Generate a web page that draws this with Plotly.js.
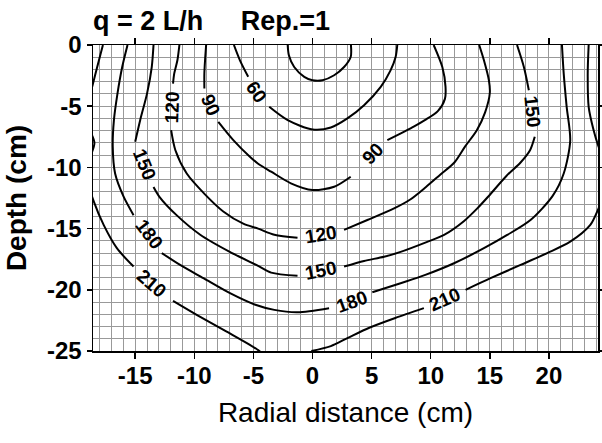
<!DOCTYPE html>
<html><head><meta charset="utf-8">
<script src="https://cdn.plot.ly/plotly-3.0.1.min.js"></script>
<style>html,body{margin:0;padding:0;background:#fff}</style>
</head><body><div id="chart" style="width:602px;height:443px"></div>
<script>
// ---- data (x: radial distance cm, y: depth cm) ----
const c30X = [-2.1, -2.0, -1.55, -0.7, 0, 0.84, 1.83, 2.67, 3.23, 3.25];
const c30Y = [0, -0.84, -1.8, -2.6, -2.88, -2.88, -2.47, -1.8, -0.98, 0];

const c60X = [-6.65, -6.14, -5.44, null, -3.66, -2.1, 0, 1.55, 2.95, 4.36, 5.77, 6.6, 7.03, 7.17];
const c60Y = [0, -1.25, -2.6, null, -5.05, -6.14, -6.9, -6.74, -6.0, -4.92, -3.42, -2.07, -0.98, 0];

const c90X = [-9.0, -9.09, -9.15, -9.15, null, -7.97, -6.7, -5.3, -4.6, -3.5, -1.83, 0, 1.83, 3.23, null, 6.33, 7.6, 8.6, 9.5, 10.6, 11.2, 11.25, 10.98, 10.25];
const c90Y = [0, -1.25, -2.34, -3.56, null, -6.28, -7.77, -9.13, -9.7, -10.35, -11.3, -11.85, -11.58, -10.76, null, -7.77, -7.15, -6.65, -6.14, -5.4, -4.4, -3.4, -1.8, 0];

const c120X = [-11.26, -11.43, -11.7, -11.8, null, -11.96, -11.6, -10.64, -9.1, -7.55, -5.86, -4.6, -3.23, -1.27, null, 2.67, 4.64, 6.9, 8.3, 9.6, 10.8, 12.0, 12.9, 13.9, 14.6, 15.0, 14.92, 14.5, 14.1];
const c120Y = [0, -1.25, -2.34, -3.15, null, -6.96, -8.6, -10.5, -12.2, -13.6, -14.6, -15.0, -15.5, -15.74, null, -15.1, -14.3, -13.35, -12.6, -11.6, -10.6, -9.6, -8.3, -6.96, -5.5, -3.9, -2.88, -1.25, 0];

const c150X = [-13.45, -13.6, -14.0, -14.58, -15.0, null, -13.45, -12.95, -11.5, -9.5, -7.0, -4.6, -3.5, -1.27, null, 2.67, 4.36, 6.05, 7.45, 9.65, 11.13, 12.8, 13.94, 14.85, 16.4, 17.6, 18.4, 18.8, null, 18.3, 17.88, 17.3];
const c150Y = [0, -1.8, -3.97, -6.14, -7.9, null, -11.6, -12.4, -13.9, -15.5, -16.9, -18.05, -18.6, -18.86, null, -18.1, -17.64, -17.3, -16.9, -16.1, -15.52, -14.4, -13.35, -12.4, -10.7, -9.6, -8.6, -7.5, null, -3.7, -1.8, 0];

const c180X = [-15.65, -16.1, -16.5, -16.8, -16.9, -16.7, -16.0, -15.14, null, -12.75, -11.2, -9.23, -6.98, -4.9, -3.23, -1.27, 1.4, null, 5.06, 7.45, 9.6, 11.97, 14.5, 16.47, 18.44, 20.3, 21.25, 21.8, 21.5, 21.25, 21.1];
const c180Y = [0, -1.8, -3.97, -6.14, -8.3, -10.5, -12.35, -13.9, null, -17.0, -17.97, -19.05, -20.28, -21.2, -21.64, -21.83, -21.5, null, -20.2, -19.46, -18.76, -17.83, -16.6, -15.52, -14.3, -12.35, -10.5, -7.8, -5.05, -2.34, 0];

const c210aX = [-17.73, -18.5, -18.9, -19.0, -18.45, -18.9, -18.9, -18.5, -17.67, -16.55, -15.14, null, -11.8, -9.8, -7.3, -5.3, -4.5, -4.3];
const c210aY = [0, -2.88, -4.5, -6.5, -8.0, -9.5, -11.5, -12.8, -14.7, -16.6, -18.1, null, -20.9, -22.04, -23.4, -24.5, -25.0, -25.2];

const c210bX = [-0.1, 1.55, 2.95, 4.8, 7.0, 9.42, null, 12.95, 15.06, 17.6, 19.85, 21.8, 23.5, 24.2, 24.5];
const c210bY = [-25.0, -24.6, -23.95, -23.1, -22.3, -21.5, null, -20.0, -19.05, -17.97, -17.0, -16.07, -14.7, -13.35, -12.7];

const c210cX = [23.36, 23.28, 23.36, 23.78, 24.2, 24.5];
const c210cY = [0, -2.34, -5.05, -6.96, -8.3, -9.0];

const labelText = ['60', '90', '120', '150', '180', '210', '90', '120', '150', '180', '210', '150'];
const labelX = [-4.7, -8.6, -11.85, -14.24, -13.8, -13.6, 5.1, 0.7, 0.7, 3.38, 11.18, 18.58];
const labelY = [-3.85, -4.92, -5.05, -9.8, -15.5, -19.46, -8.85, -15.47, -18.46, -20.96, -20.82, -5.46];

const xTickVals = [-15, -10, -5, 0, 5, 10, 15, 20];
const xTickText = ['-15', '-10', '-5', '0', '5', '10', '15', '20'];
const yTickVals = [0, -5, -10, -15, -20, -25];
const yTickText = ['0', '-5', '-10', '-15', '-20', '-25'];

// ---- styling ----
const labelAngle = [55, 67, -88, 68, 53, 41, -45, -9, -11, -20, -24, 84];
const series = [[c30X, c30Y], [c60X, c60Y], [c90X, c90Y], [c120X, c120Y], [c150X, c150Y],
                [c180X, c180Y], [c210aX, c210aY], [c210bX, c210bY], [c210cX, c210cY]];

const traces = series.map(s => ({
  type: 'scatter', mode: 'lines', x: s[0], y: s[1],
  line: {color: '#000', width: 2, shape: 'spline', smoothing: 0.8},
  connectgaps: false, hoverinfo: 'skip', showlegend: false
}));

const FAM = 'Liberation Sans, Arial, sans-serif';
const annotations = labelText.map((t, i) => ({
  text: t, x: labelX[i], y: labelY[i], xref: 'x', yref: 'y', showarrow: false,
  textangle: labelAngle[i], font: {family: FAM, size: 19, color: '#000', weight: 'bold'}
}));

const gridCol = '#999999';
const tickFont = {family: FAM, size: 24, color: '#000', weight: 'bold'};

const layout = {
  width: 602, height: 443,
  margin: {l: 93, r: 4, t: 45, b: 92},
  paper_bgcolor: '#fff', plot_bgcolor: '#fff',
  title: {
    text: 'q = 2 L/h\u00a0\u00a0\u00a0\u00a0\u00a0Rep.=1',
    font: {family: FAM, size: 27, color: '#000', weight: 'bold'},
    xref: 'paper', x: 0, xanchor: 'left', yref: 'container', y: 0.953, yanchor: 'middle'
  },
  xaxis: {
    range: [-18.57, 24.15], tickmode: 'array', tickvals: xTickVals, ticktext: xTickText,
    ticks: 'outside', ticklen: 6, tickwidth: 1.5, tickcolor: '#000',
    showline: true, linecolor: '#000', linewidth: 1.5, mirror: 'ticks',
    showgrid: true, gridcolor: gridCol, gridwidth: 1, zeroline: false,
    minor: {dtick: 1, tick0: 0, showgrid: true, gridcolor: gridCol, gridwidth: 1, ticks: ''},
    tickfont: tickFont, ticklabelstandoff: -3,
    title: {text: 'Radial distance (cm)', standoff: 14,
            font: {family: FAM, size: 28, color: '#000'}}
  },
  yaxis: {
    range: [-25, 0], tickmode: 'array', tickvals: yTickVals, ticktext: yTickText,
    ticks: 'outside', ticklen: 5, tickwidth: 1.5, tickcolor: '#000',
    showline: true, linecolor: '#000', linewidth: 1.5, mirror: 'ticks',
    showgrid: true, gridcolor: gridCol, gridwidth: 1, zeroline: false,
    minor: {dtick: 1, tick0: 0, showgrid: true, gridcolor: gridCol, gridwidth: 1, ticks: ''},
    tickfont: tickFont,
    title: {text: 'Depth (cm)', standoff: 12,
            font: {family: FAM, size: 28, color: '#000', weight: 'bold'}}
  },
  annotations: annotations
};

Plotly.newPlot('chart', traces, layout, {displayModeBar: false, staticPlot: true});
</script></body></html>
